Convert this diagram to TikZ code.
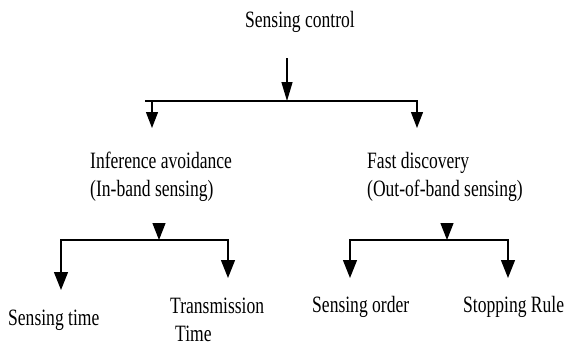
\documentclass[tikz,border=0pt]{standalone}
\usepackage{fontspec}
\setmainfont{Liberation Serif}[FakeStretch=0.75]
\usetikzlibrary{arrows.meta}
\begin{document}
\begin{tikzpicture}[x=1pt,y=-1pt,
  lbl/.style={inner sep=0pt,anchor=base west,align=left,font=\fontsize{23.4}{28.5}\selectfont},
  ln/.style={line width=1.3pt,line join=miter},
  tipA/.style={-{Triangle[length=19pt,width=11pt]}},
  tipB/.style={-{Triangle[length=16pt,width=12pt]}},
  tipS/.style={-{Triangle[length=17pt,width=13pt]}},
  tipL/.style={{Triangle[length=18pt,width=14pt]}-{Triangle[length=18pt,width=14pt]}}]
\useasboundingbox (0,0) rectangle (566,343);
% nodes (base of a two-line node is the baseline of its last line)
\node[lbl,anchor=base] (sc) at (300,27) {Sensing control};
\node[lbl] (ia) at (90,196.5) {Inference avoidance\\(In-band sensing)};
\node[lbl] (fd) at (367,196.5) {Fast discovery\\(Out-of-band sensing)};
\node[lbl] (st) at (8,325) {Sensing time};
\node[lbl] (tt) at (170,341.5) {Transmission\\\hspace*{5pt}Time};
\node[lbl] (so) at (312,312) {Sensing order};
\node[lbl] (sr) at (463,312) {Stopping Rule};
% junction coordinates
\coordinate (t0) at (287,58);
\coordinate (t1) at (287,101);
\coordinate (b0) at (145,101);
\coordinate (b1) at (418,101);
\coordinate (iaT) at (152,101);
\coordinate (iaH) at (152,128);
\coordinate (fdT) at (417,101);
\coordinate (fdH) at (417,128);
% top level
\draw[ln,tipA] (t0) -- (t1);
\draw[ln] (b0) -- (b1);
\draw[ln,tipB] (iaT) -- (iaH);
\draw[ln,tipB] (fdT) -- (fdH);
% left subtree
\coordinate (la) at (159,223);
\coordinate (lj) at (159,240);
\draw[ln,tipS] (la) -- (lj);
\coordinate (l1) at (61,290);
\coordinate (l2) at (61,240);
\coordinate (l3) at (228,240);
\coordinate (l4) at (228,278);
\draw[ln,tipL] (l1) -- (l2) -- (l3) -- (l4);
% right subtree
\coordinate (ra) at (447,223);
\coordinate (rj) at (447,240);
\draw[ln,tipS] (ra) -- (rj);
\coordinate (r1) at (350,278);
\coordinate (r2) at (350,240);
\coordinate (r3) at (508,240);
\coordinate (r4) at (508,278);
\draw[ln,tipL] (r1) -- (r2) -- (r3) -- (r4);
\end{tikzpicture}
\end{document}
